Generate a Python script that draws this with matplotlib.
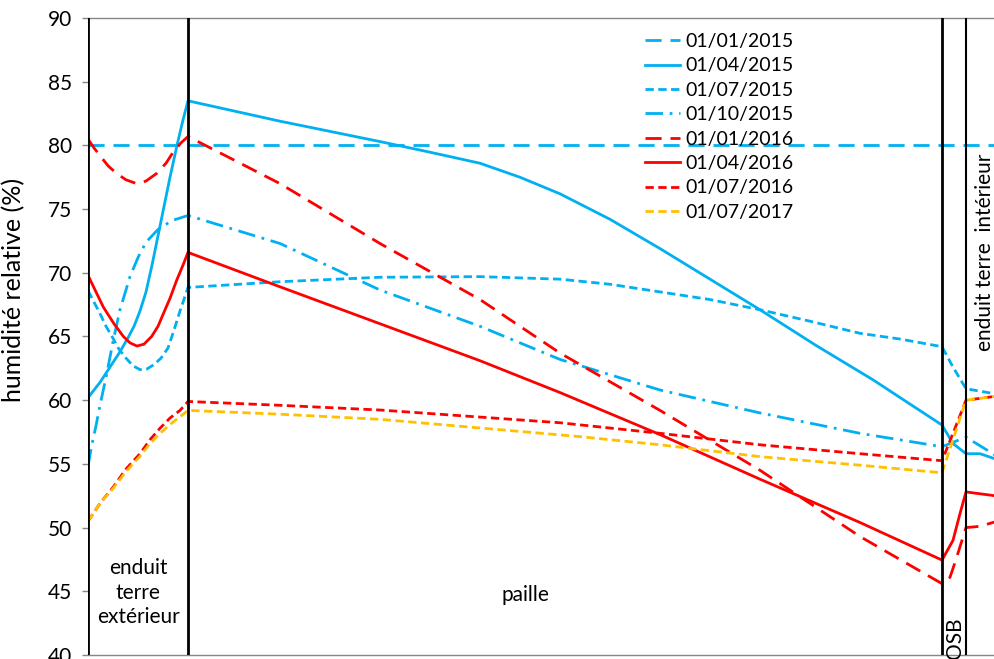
import matplotlib
matplotlib.use("Agg")
import matplotlib.pyplot as plt

plt.rcParams['font.family'] = ['Lato', 'DejaVu Sans']

# positions in the wall (cm) and relative humidity (%) per date
x_jan15 = [0, 5, 42.7, 43.9, 45.35]
rh_jan15 = [80, 80, 80, 80, 80]

x_apr15 = [0, 0.6, 1.1, 1.6, 2.0, 2.3, 2.6, 2.9, 3.2, 3.5, 3.8, 4.1, 4.45, 4.75, 5.0,
           9.6, 14.6, 17.0, 19.6, 21.6, 23.6, 26.1, 28.6, 31.1, 33.6, 36.4, 39.25, 42.7,
           43.25, 43.9, 44.6, 45.35]
rh_apr15 = [60.2, 61.4, 62.6, 63.8, 64.9, 65.8, 67.0, 68.5, 70.6, 72.9, 75.2, 77.5, 80.0, 82.0, 83.5,
            81.9, 80.3, 79.5, 78.6, 77.5, 76.2, 74.2, 71.9, 69.5, 67.1, 64.3, 61.6, 58.05,
            56.6, 55.8, 55.8, 55.4]

x_jul15 = [0, 0.3, 0.6, 0.9, 1.2, 1.55, 1.9, 2.25, 2.6, 2.95, 3.3, 3.65, 4.0, 4.3, 4.6, 5.0,
           9.6, 14.6, 19.6, 23.6, 26.1, 28.6, 31.1, 33.6, 36.1, 38.6, 40.6, 42.7,
           43.25, 43.9, 45.35]
rh_jul15 = [68.6, 67.7, 66.8, 65.8, 65.0, 64.0, 63.3, 62.7, 62.4, 62.45, 62.8, 63.3, 64.1, 65.5, 67.0, 68.85,
            69.3, 69.65, 69.7, 69.5, 69.1, 68.5, 67.9, 67.1, 66.2, 65.25, 64.8, 64.2,
            62.6, 60.9, 60.5]

x_oct15 = [0, 0.18, 0.4, 0.6, 0.93, 1.25, 1.6, 2.1, 2.5, 2.9, 3.5, 4.2, 5.0,
           9.6, 14.6, 19.6, 23.6, 28.6, 33.6, 38.6, 42.7,
           43.9, 45.35]
rh_oct15 = [54.8, 56.4, 58.0, 59.6, 62.0, 64.6, 67.1, 69.7, 71.2, 72.4, 73.4, 74.1, 74.5,
            72.3, 68.65, 65.8, 63.2, 60.8, 59.0, 57.4, 56.35,
            57.1, 55.7]

x_jan16 = [0, 0.3, 0.6, 1.0, 1.43, 1.9, 2.43, 2.9, 3.43, 3.9, 4.27, 4.65, 5.0,
           9.6, 14.6, 19.6, 23.6, 28.6, 33.6, 38.6, 42.7,
           43.1, 43.4, 43.7, 43.9, 44.6, 45.35]
rh_jan16 = [80.5, 79.8, 79.2, 78.4, 77.8, 77.3, 77.0, 77.2, 77.8, 78.6, 79.5, 80.2, 80.7,
            77.0, 72.3, 67.9, 63.7, 59.2, 54.5, 49.3, 45.6,
            46.1, 47.5, 49.0, 50.0, 50.1, 50.45]

x_apr16 = [0, 0.4, 0.77, 1.3, 1.77, 2.1, 2.45, 2.8, 3.18, 3.5, 3.77, 4.1, 4.43, 4.75, 5.0,
           9.6, 14.6, 19.6, 23.6, 28.6, 33.6, 38.6, 42.7,
           43.25, 43.6, 43.9, 45.35]
rh_apr16 = [69.8, 68.5, 67.3, 66.0, 65.0, 64.5, 64.25, 64.4, 65.0, 65.8, 66.8, 68.0, 69.4, 70.6, 71.6,
            68.9, 66.0, 63.1, 60.6, 57.3, 53.8, 50.4, 47.45,
            49.0, 51.1, 52.8, 52.5]

x_jul16 = [0, 0.6, 1.27, 1.9, 2.6, 3.1, 3.6, 4.1, 4.6, 5.0,
           9.6, 14.6, 23.6, 28.6, 33.6, 38.6, 42.7,
           43.25, 43.9, 45.35]
rh_jul16 = [50.5, 51.9, 53.2, 54.6, 55.8, 56.9, 57.8, 58.6, 59.2, 59.9,
            59.6, 59.23, 58.23, 57.4, 56.5, 55.8, 55.25,
            57.4, 60.0, 60.3]

x_jul17 = [0, 0.6, 1.27, 1.9, 2.6, 3.1, 3.6, 4.1, 4.6, 5.0,
           9.6, 14.6, 24.6, 28.6, 33.6, 38.6, 42.7,
           43.25, 43.9, 45.35]
rh_jul17 = [50.5, 51.9, 53.1, 54.4, 55.6, 56.6, 57.4, 58.1, 58.7, 59.2,
            58.9, 58.5, 57.14, 56.5, 55.57, 54.9, 54.3,
            56.9, 60.0, 60.3]

layers = [0, 5, 42.7, 43.9]

blue = '#00B0F0'
red = '#FF0000'
orange = '#FFC000'

long_dash = (5.8, 3.2)
short_dash = (3.0, 1.6)
dash_dot = (6.3, 2.4, 1.0, 2.4)

fig = plt.figure(figsize=(9.95, 6.59), dpi=100)
ax = fig.add_axes([88 / 995, 4 / 659, 907 / 995, 637 / 659])

lw = 2.0
ax.plot(x_jan15, rh_jan15, color=blue, lw=lw, dashes=long_dash, label='01/01/2015')
ax.plot(x_apr15, rh_apr15, color=blue, lw=lw, label='01/04/2015')
ax.plot(x_jul15, rh_jul15, color=blue, lw=lw, dashes=short_dash, label='01/07/2015')
ax.plot(x_oct15, rh_oct15, color=blue, lw=lw, dashes=dash_dot, label='01/10/2015')
ax.plot(x_jan16, rh_jan16, color=red, lw=lw, dashes=long_dash, label='01/01/2016')
ax.plot(x_apr16, rh_apr16, color=red, lw=lw, label='01/04/2016')
ax.plot(x_jul16, rh_jul16, color=red, lw=lw, dashes=short_dash, label='01/07/2016')
ax.plot(x_jul17, rh_jul17, color=orange, lw=lw, dashes=short_dash, label='01/07/2017')

for i, xl in enumerate(layers):
    ax.axvline(xl, color='black', lw=1.5 if i == 3 else 2.0, zorder=5)

ax.set_xlim(0, 45.35)
ax.set_ylim(40, 90)
ax.set_yticks(range(40, 91, 5))
ax.set_xticks([])
ax.tick_params(axis='y', direction='out', length=4.5, width=1, color='#868686',
               labelsize=15, pad=7)
for side in ['left', 'right']:
    ax.spines[side].set_visible(False)
for side in ['top', 'bottom']:
    ax.spines[side].set_color('#868686')
    ax.spines[side].set_linewidth(1)

ax.set_ylabel('humidité relative (%)', fontsize=18)
ax.yaxis.set_label_coords(-0.069, 0.573)

ax.text(2.5, 44.9, 'enduit\nterre\nextérieur', ha='center', va='center',
        fontsize=15, linespacing=1.3)
ax.text(21.85, 44.7, 'paille', ha='center', va='center', fontsize=15)
ax.text(43.35, 41.3, 'OSB', ha='center', va='center', rotation=90, fontsize=15)
ax.text(44.85, 71.6, 'enduit terre  intérieur', ha='center', va='center',
        rotation=90, fontsize=15)

ax.legend(loc='upper left', bbox_to_anchor=(645 / 995, 1 - 33 / 659),
          bbox_transform=fig.transFigure, frameon=False, fontsize=14,
          handlelength=1.8, handletextpad=0.3, labelspacing=0.38,
          borderpad=0, borderaxespad=0)

fig.savefig('out.png', dpi=100)
